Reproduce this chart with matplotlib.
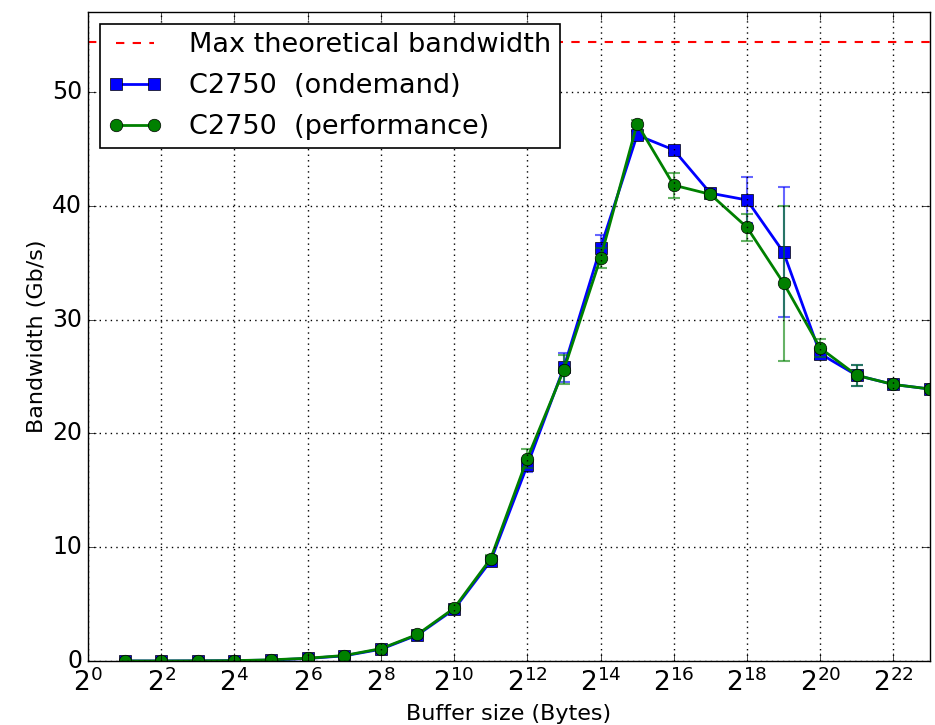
"""Buffer size vs. bandwidth on the C2750, ondemand vs performance governor."""

import matplotlib
matplotlib.use("Agg")
import matplotlib.pyplot as plt

plt.style.use("classic")
plt.rcParams["mathtext.fontset"] = "dejavusans"

# buffer sizes are 2^1 .. 2^23 bytes
exponents = list(range(1, 24))
ondemand = [0.02, 0.02, 0.03, 0.05, 0.10, 0.24, 0.47, 1.05, 2.30, 4.55,
            8.8, 17.2, 25.8, 36.3, 46.2, 44.9, 41.1, 40.5, 35.9, 27.0,
            25.1, 24.3, 23.9]
ondemand_err = [0.0, 0.0, 0.0, 0.0, 0.0, 0.02, 0.05, 0.1, 0.15, 0.2,
                0.3, 0.6, 1.3, 1.1, 0.4, 0.3, 0.3, 2.0, 5.7, 0.5,
                0.9, 0.2, 0.1]
performance = [0.02, 0.02, 0.03, 0.05, 0.12, 0.26, 0.50, 1.10, 2.35, 4.65,
               9.0, 17.8, 25.6, 35.4, 47.2, 41.8, 41.0, 38.1, 33.2, 27.5,
               25.1, 24.3, 23.9]
performance_err = [0.0, 0.0, 0.0, 0.0, 0.0, 0.02, 0.05, 0.1, 0.15, 0.2,
                   0.3, 0.8, 1.3, 0.9, 0.3, 1.1, 0.3, 1.2, 6.8, 0.8,
                   0.9, 0.2, 0.1]
max_bw = 54.4

x_ticks = list(range(0, 23, 2))
y_ticks = [0, 10, 20, 30, 40, 50]


def main():
    sizes = [2 ** e for e in exponents]

    fig = plt.figure(figsize=(9.35, 7.25), dpi=100, facecolor="white")
    ax = fig.add_axes([0.094, 0.088, 0.9007, 0.8953])

    ax.axhline(max_bw, color="r", linestyle="--", linewidth=1.5,
               label="Max theoretical bandwidth")

    ax.errorbar(sizes, ondemand, yerr=ondemand_err, fmt="none", ecolor="b",
                elinewidth=1.5, capsize=4, capthick=1.5, alpha=0.6)
    ax.plot(sizes, ondemand, "bs-", linewidth=2, markersize=9,
            markeredgecolor="k", label="C2750  (ondemand)")

    ax.errorbar(sizes, performance, yerr=performance_err, fmt="none",
                ecolor="g", elinewidth=1.5, capsize=4, capthick=1.5,
                alpha=0.6)
    ax.plot(sizes, performance, "go-", linewidth=2, markersize=9,
            markeredgecolor="k", label="C2750  (performance)")

    ax.set_xscale("log", base=2)
    ax.set_xlim(2 ** 0, 2 ** 23)
    ax.set_xticks([2 ** e for e in x_ticks])
    ax.set_xticklabels([rf"$2^{{{e}}}$" for e in x_ticks])
    ax.minorticks_off()
    ax.set_ylim(0, 57)
    ax.set_yticks(y_ticks)

    ax.tick_params(axis="both", labelsize=17, direction="in", length=6)
    ax.tick_params(axis="x", labelsize=19, pad=5)
    ax.set_xlabel("Buffer size (Bytes)", fontsize=16, labelpad=5)
    ax.set_ylabel("Bandwidth (Gb/s)", fontsize=16, labelpad=4)
    ax.grid(True, color="k", linestyle=":", linewidth=1)

    leg = ax.legend(loc="upper left", fontsize=19.5, numpoints=2,
                    fancybox=False, borderaxespad=0.45, handlelength=2.0,
                    handletextpad=1.0, borderpad=0.3, labelspacing=0.55)
    leg.get_frame().set_linewidth(1.2)

    fig.savefig("out.png", dpi=100, facecolor="white")
    plt.close(fig)


if __name__ == "__main__":
    main()
